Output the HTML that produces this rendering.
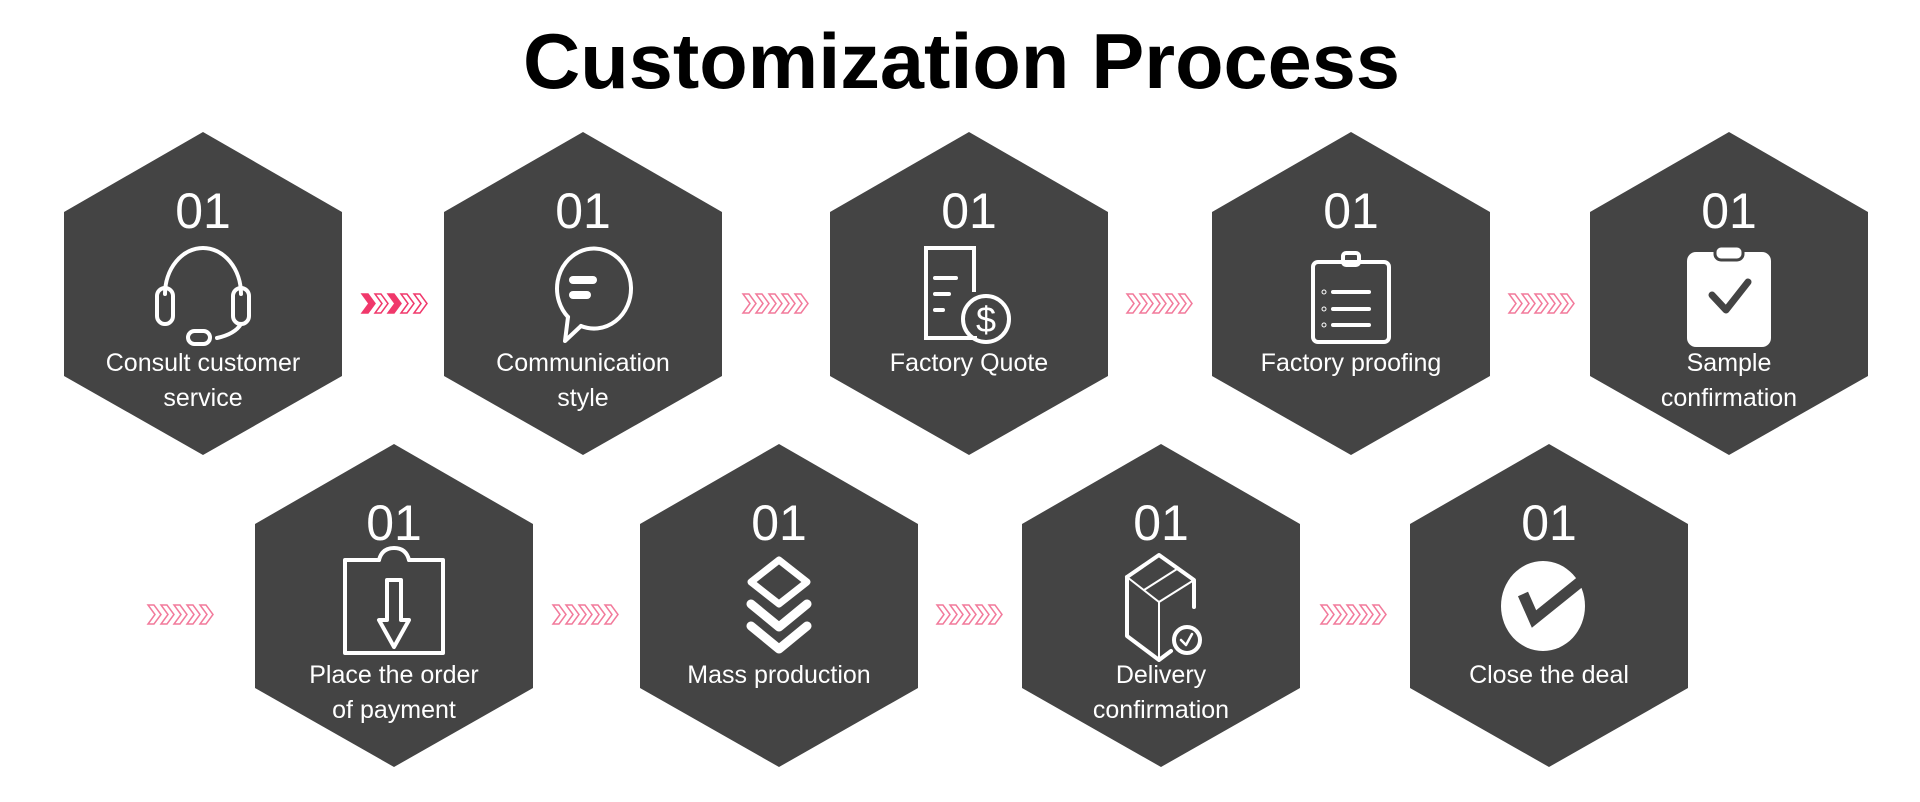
<!DOCTYPE html>
<html><head><meta charset="utf-8"><style>
html,body{margin:0;padding:0;background:#fff;width:1920px;height:802px;overflow:hidden}
svg{display:block}
text{font-family:"Liberation Sans","DejaVu Sans",sans-serif}
</style></head><body>
<svg width="1920" height="802" viewBox="0 0 1920 802" xmlns="http://www.w3.org/2000/svg">
<defs>
<polygon id="hx" points="0,0 139,80 139,244 0,323 -139,244 -139,80" fill="#444444"/>
<g id="chevO" fill="none" stroke="#f27a9b" stroke-width="1.5">
<polygon points="0,0 6,0 13,9.5 6,19 0,19 7,9.5"/>
<polygon points="13,0 19,0 26,9.5 19,19 13,19 20,9.5"/>
<polygon points="26,0 32,0 39,9.5 32,19 26,19 33,9.5"/>
<polygon points="39,0 45,0 52,9.5 45,19 39,19 46,9.5"/>
<polygon points="52,0 58,0 65,9.5 58,19 52,19 59,9.5"/>
</g>
</defs>

<text x="523" y="88" font-size="78" font-weight="bold" fill="#000" textLength="877" lengthAdjust="spacingAndGlyphs">Customization Process</text>

<g transform="translate(362,294)">
<g fill="#f0386b" stroke="#f0386b" stroke-width="1.5">
<polygon points="0,0 6,0 13,9.5 6,19 0,19 7,9.5"/>
<polygon points="26,0 32,0 39,9.5 32,19 26,19 33,9.5"/>
</g>
<g fill="none" stroke="#f0386b" stroke-width="1.5">
<polygon points="13,0 19,0 26,9.5 19,19 13,19 20,9.5"/>
<polygon points="39,0 45,0 52,9.5 45,19 39,19 46,9.5"/>
<polygon points="52,0 58,0 65,9.5 58,19 52,19 59,9.5"/>
</g>
</g>
<use href="#chevO" x="743" y="294"/>
<use href="#chevO" x="1127" y="294"/>
<use href="#chevO" x="1509" y="294"/>
<use href="#chevO" x="148" y="605"/>
<use href="#chevO" x="553" y="605"/>
<use href="#chevO" x="937" y="605"/>
<use href="#chevO" x="1321" y="605"/>

<g fill="#fff" font-size="50" text-anchor="middle">
<g transform="translate(203,132)"><use href="#hx"/><text y="96">01</text></g>
<g transform="translate(583,132)"><use href="#hx"/><text y="96">01</text></g>
<g transform="translate(969,132)"><use href="#hx"/><text y="96">01</text></g>
<g transform="translate(1351,132)"><use href="#hx"/><text y="96">01</text></g>
<g transform="translate(1729,132)"><use href="#hx"/><text y="96">01</text></g>
<g transform="translate(394,444)"><use href="#hx"/><text y="96">01</text></g>
<g transform="translate(779,444)"><use href="#hx"/><text y="96">01</text></g>
<g transform="translate(1161,444)"><use href="#hx"/><text y="96">01</text></g>
<g transform="translate(1549,444)"><use href="#hx"/><text y="96">01</text></g>
</g>

<g fill="#fff" font-size="25" text-anchor="middle">
<text x="203" y="371">Consult customer</text><text x="203" y="406">service</text>
<text x="583" y="371">Communication</text><text x="583" y="406">style</text>
<text x="969" y="371">Factory Quote</text>
<text x="1351" y="371">Factory proofing</text>
<text x="1729" y="371">Sample</text><text x="1729" y="406">confirmation</text>
<text x="394" y="683">Place the order</text><text x="394" y="718">of payment</text>
<text x="779" y="683">Mass production</text>
<text x="1161" y="683">Delivery</text><text x="1161" y="718">confirmation</text>
<text x="1549" y="683">Close the deal</text>
</g>

<g fill="none" stroke="#fff" stroke-width="4" stroke-linecap="round" stroke-linejoin="round">
<g transform="translate(203,132)">
<path d="M-38,162 A38,46 0 0 1 38,162"/>
<rect x="-46" y="156" width="16" height="36" rx="8"/>
<rect x="30" y="156" width="16" height="36" rx="8"/>
<path d="M38,192 Q32,202 14,206"/>
<rect x="-15" y="199" width="22" height="13" rx="6.5"/>
</g>
<g transform="translate(583,132)">
<path d="M-15,185 A37,40 0 1 1 -2,194"/>
<path d="M-15,185 L-18,209 L-2,194"/>
<line x1="-10" y1="148" x2="10" y2="148" stroke-width="8"/>
<line x1="-10" y1="163" x2="4" y2="163" stroke-width="8"/>
</g>
<g transform="translate(969,132)">
<path d="M8,206 L-43,206 L-43,116 L5,116 L5,160" stroke-linecap="butt" stroke-linejoin="miter"/>
<line x1="-34" y1="146" x2="-13" y2="146"/>
<line x1="-34" y1="162" x2="-20" y2="162"/>
<line x1="-34" y1="178" x2="-26" y2="178"/>
<circle cx="17" cy="187" r="23"/>
</g>
<g transform="translate(1351,132)">
<rect x="-38" y="130" width="76" height="80" rx="5"/>
<rect x="-8" y="121" width="16" height="12" rx="3"/>
<line x1="-18" y1="160" x2="18" y2="160"/><line x1="-18" y1="177" x2="18" y2="177"/><line x1="-18" y1="193" x2="18" y2="193"/>
<circle cx="-27" cy="160" r="0.5"/><circle cx="-27" cy="177" r="0.5"/><circle cx="-27" cy="193" r="0.5"/>
</g>
<g transform="translate(394,444)">
<path d="M-15,116 L-49,116 L-49,209 L49,209 L49,116 L15,116"/>
<path d="M-15,116 Q-12,104 0,104 Q12,104 15,116"/>
<path d="M-7,136 L7,136 L7,176 L15,176 L0,203 L-15,176 L-7,176 Z"/>
</g>
<g transform="translate(779,444)" stroke-width="9">
<path d="M0,116 L-28,138 L0,160 L28,138 Z" stroke-width="7"/>
<path d="M-28,160 L0,183 L28,160"/>
<path d="M-28,182 L0,205 L28,182"/>
</g>
<g transform="translate(1161,474)">
<path d="M-34,103 L-2,81 L33,106 L33,133" />
<path d="M-34,103 L-34,162 L-2,186 L10,177"/>
<path d="M-34,103 L-2,128 L33,106" stroke-width="2"/>
<line x1="-2" y1="128" x2="-2" y2="186" stroke-width="2"/>
<line x1="-17" y1="116" x2="16" y2="95" stroke-width="2"/>
<circle cx="26" cy="166" r="13"/>
<path d="M20,166 L25,171 L31,160" stroke-width="2.5"/>
</g>
</g>
<g transform="translate(1729,132)">
<rect x="-42" y="120" width="84" height="95" rx="9" fill="#fff"/>
<rect x="-14" y="114" width="28" height="14" rx="6" fill="#fff" stroke="#444" stroke-width="3"/>
<path d="M-17,163 L-3,178 L19,150" fill="none" stroke="#444" stroke-width="7" stroke-linecap="round" stroke-linejoin="round"/>
</g>
<g transform="translate(1549,444)">
<ellipse cx="-6" cy="162" rx="42" ry="45" fill="#fff"/>
<path d="M-26,150 L-15,175 L31,138" fill="none" stroke="#444" stroke-width="11"/>
</g>
<text x="986" y="332" font-size="36" fill="#fff" text-anchor="middle">$</text>
</svg>
</body></html>
